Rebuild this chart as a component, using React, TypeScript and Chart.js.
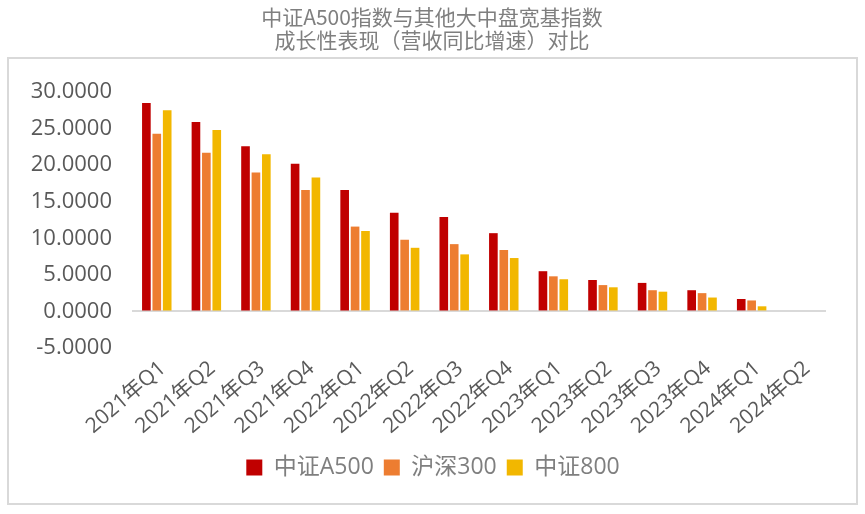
import React, { useEffect, useRef } from "react";
import { Chart, registerables } from "chart.js";

Chart.register(...registerables);

const categories = [
  "2021年Q1", "2021年Q2", "2021年Q3", "2021年Q4",
  "2022年Q1", "2022年Q2", "2022年Q3", "2022年Q4",
  "2023年Q1", "2023年Q2", "2023年Q3", "2023年Q4",
  "2024年Q1", "2024年Q2",
];
const a500 = [28.5, 25.9, 22.6, 20.2, 16.6, 13.5, 12.9, 10.7, 5.5, 4.3, 3.9, 2.9, 1.7, null];
const hs300 = [24.3, 21.7, 19.0, 16.6, 11.6, 9.8, 9.2, 8.4, 4.8, 3.6, 2.9, 2.5, 1.5, null];
const zz800 = [27.5, 24.8, 21.5, 18.3, 11.0, 8.7, 7.8, 7.3, 4.4, 3.3, 2.7, 1.9, 0.7, null];
const seriesNames = ["中证A500", "沪深300", "中证800"];
const titleLines = ["中证A500指数与其他大中盘宽基指数", "成长性表现（营收同比增速）对比"];

const FONT = "'Open Sans','Noto Sans CJK SC',sans-serif";

const framePlugin = {
  id: "frame",
  afterLayout(chart: any) {
    const lg = chart.legend;
    if (lg) {
      lg.left += 20;
      lg.right += 20;
    }
  },
  beforeDraw(chart: any) {
    const ctx = chart.ctx;
    ctx.save();
    ctx.fillStyle = "#ffffff";
    ctx.fillRect(0, 0, chart.width, chart.height);
    ctx.strokeStyle = "#d9d9d9";
    ctx.lineWidth = 2;
    ctx.strokeRect(8, 58, 849, 446);
    ctx.fillStyle = "#7f7f7f";
    ctx.font = "21px 'Noto Sans CJK SC',sans-serif";
    ctx.textAlign = "center";
    ctx.textBaseline = "middle";
    ctx.fillText(titleLines[0], 432, 17);
    ctx.fillText(titleLines[1], 432, 40);
    ctx.restore();
  },
};

export default function App() {
  const ref = useRef<HTMLCanvasElement>(null);
  useEffect(() => {
    const chart = new Chart(ref.current!, {
      type: "bar",
      data: {
        labels: categories,
        datasets: [
          { label: seriesNames[0], data: a500, backgroundColor: "#C00000" },
          { label: seriesNames[1], data: hs300, backgroundColor: "#ED7D31" },
          { label: seriesNames[2], data: zz800, backgroundColor: "#F2B700" },
        ],
      },
      options: {
        responsive: false,
        animation: false,
        layout: { padding: { top: 92, left: 0, right: 39, bottom: 25 } },
        datasets: { bar: { categoryPercentage: 0.63, barPercentage: 0.83 } },
        plugins: {
          legend: {
            position: "bottom",
            labels: {
              boxWidth: 16,
              boxHeight: 16,
              padding: 10,
              color: "#7f7f7f",
              font: { size: 23, family: FONT },
            },
          },
          title: { display: false },
          tooltip: { enabled: false },
        },
        scales: {
          x: {
            grid: { display: false },
            border: { display: false },
            ticks: {
              minRotation: 41,
              maxRotation: 41,
              color: "#595959",
              font: { size: 21, family: FONT },
              padding: 0,
              labelOffset: 6,
            },
            afterFit: (s: any) => { s.height = 98; },
          },
          y: {
            min: -5,
            max: 30,
            border: { display: false },
            grid: {
              color: (c: any) => (c.tick && c.tick.value === 0 ? "#d9d9d9" : "rgba(0,0,0,0)"),
              lineWidth: 2,
              drawTicks: false,
            },
            ticks: {
              stepSize: 5,
              color: "#595959",
              padding: 20,
              font: { size: 22, family: FONT },
              callback: (v: any) => Number(v).toFixed(4),
            },
            afterFit: (s: any) => { s.width = 132; },
          },
        },
      },
      plugins: [framePlugin],
    });
    return () => chart.destroy();
  }, []);
  return (
    <div style={{ position: "fixed", left: 0, top: 0, width: 865, height: 514, background: "#fff" }}>
      <canvas ref={ref} width={865} height={514} style={{ display: "block" }} />
    </div>
  );
}
